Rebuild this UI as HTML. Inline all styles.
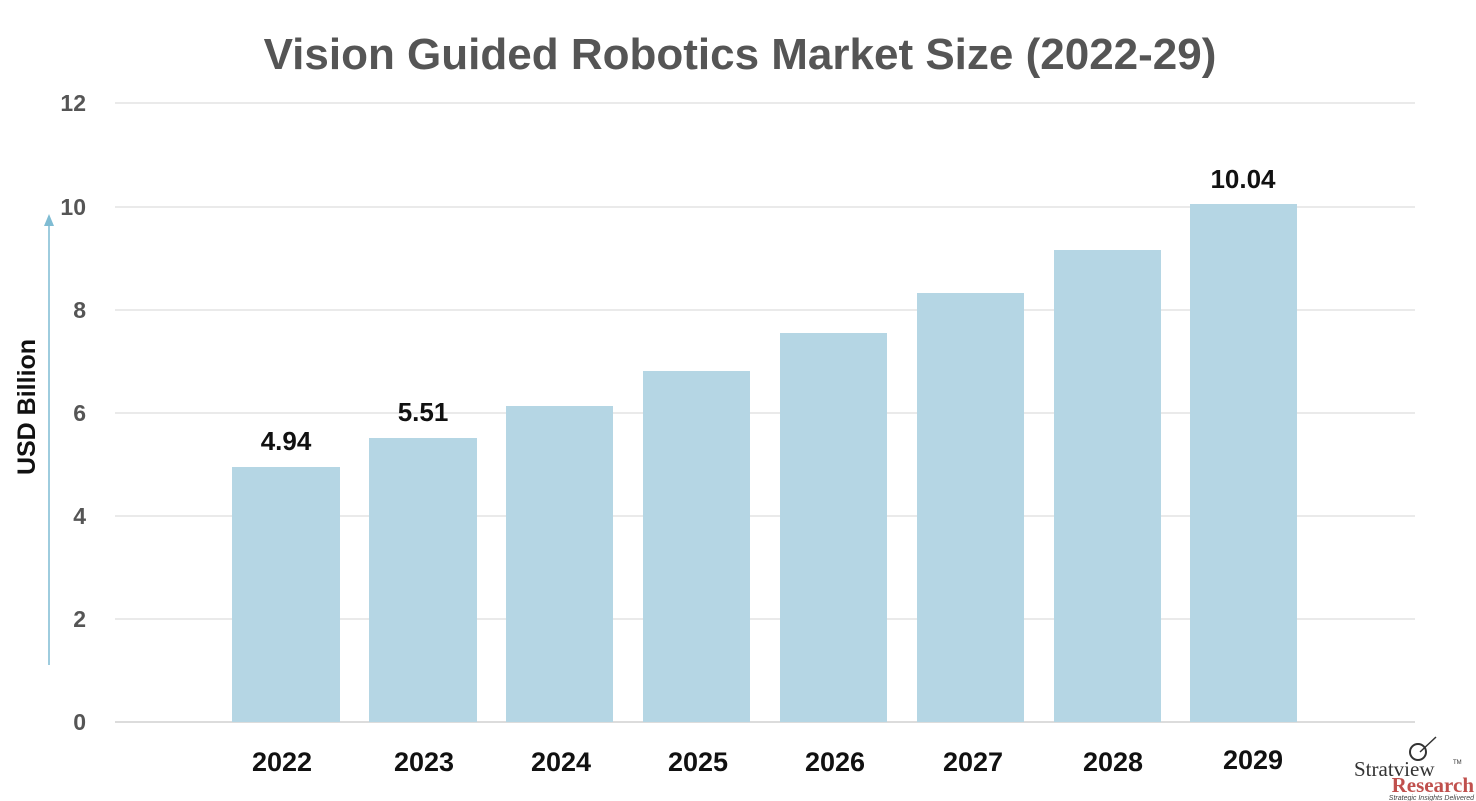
<!DOCTYPE html>
<html><head><style>body{margin:0;background:#fff}svg{display:block}</style></head><body>
<svg width="1476" height="801" xmlns="http://www.w3.org/2000/svg" font-family="Liberation Sans, sans-serif" font-weight="bold">
<text x="740" y="69" text-anchor="middle" font-size="44" fill="#555">Vision Guided Robotics Market Size (2022-29)</text>
<g stroke="#e3e3e3" stroke-width="1.5">
<line x1="115" y1="103" x2="1415" y2="103"/><line x1="115" y1="207" x2="1415" y2="207"/>
<line x1="115" y1="310" x2="1415" y2="310"/><line x1="115" y1="413" x2="1415" y2="413"/>
<line x1="115" y1="516" x2="1415" y2="516"/><line x1="115" y1="619" x2="1415" y2="619"/>
</g>
<line x1="115" y1="722" x2="1415" y2="722" stroke="#d0d0d0" stroke-width="1.5"/>
<g font-size="23" fill="#555" text-anchor="end">
<text x="86" y="111">12</text><text x="86" y="215">10</text><text x="86" y="318">8</text>
<text x="86" y="421">6</text><text x="86" y="524">4</text><text x="86" y="627">2</text><text x="86" y="730">0</text>
</g>
<line x1="49" y1="665" x2="49" y2="222" stroke="#7fbcd3" stroke-width="1.5"/>
<polygon points="44,226 54,226 49,214" fill="#7fbcd3"/>
<text transform="translate(35,407) rotate(-90)" text-anchor="middle" font-size="25" fill="#111">USD Billion</text>
<g fill="#b5d6e4">
<rect x="232" y="467" width="108" height="255"/><rect x="369" y="438" width="108" height="284"/>
<rect x="506" y="406" width="107" height="316"/><rect x="643" y="371" width="107" height="351"/>
<rect x="780" y="333" width="107" height="389"/><rect x="917" y="293" width="107" height="429"/>
<rect x="1054" y="250" width="107" height="472"/><rect x="1190" y="204" width="107" height="518"/>
</g>
<g font-size="26" fill="#111" text-anchor="middle">
<text x="286" y="450">4.94</text><text x="423" y="421">5.51</text><text x="1243" y="188">10.04</text>
</g>
<g font-size="27" fill="#111" text-anchor="middle">
<text x="282" y="771">2022</text><text x="424" y="771">2023</text><text x="561" y="771">2024</text>
<text x="698" y="771">2025</text><text x="835" y="771">2026</text><text x="973" y="771">2027</text>
<text x="1113" y="771">2028</text><text x="1253" y="769">2029</text>
</g>
<circle cx="1418" cy="752" r="8" fill="none" stroke="#333" stroke-width="2"/>
<line x1="1420" y1="752" x2="1436" y2="737" stroke="#333" stroke-width="1.5"/>
<text x="1354" y="776" font-family="Liberation Serif, serif" font-weight="normal" font-size="21" fill="#333">Stratview</text>
<text x="1453" y="764" font-size="6" font-weight="normal" fill="#333">TM</text>
<text x="1474" y="792" text-anchor="end" font-family="Liberation Serif, serif" font-size="21" fill="#c0504d">Research</text>
<text x="1474" y="800" text-anchor="end" font-size="7" font-style="italic" font-weight="normal" fill="#444">Strategic Insights Delivered</text>
</svg>
</body></html>
